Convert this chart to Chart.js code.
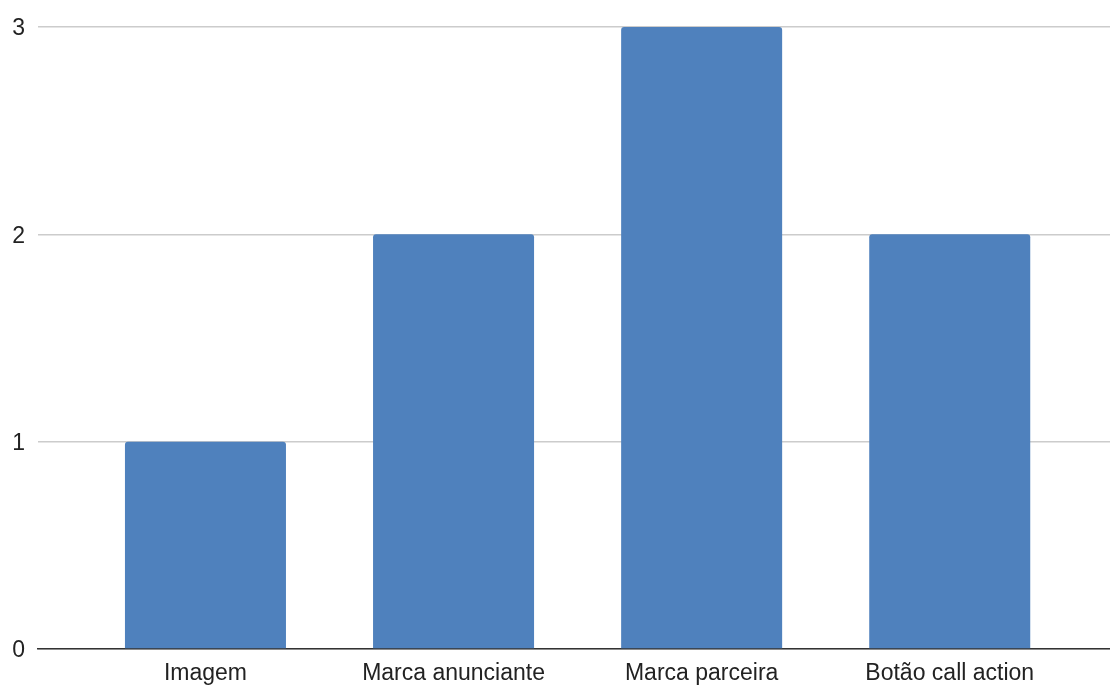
<!DOCTYPE html>
<html>
<head>
<meta charset="utf-8">
<script src="https://cdn.jsdelivr.net/npm/chart.js@4/dist/chart.umd.min.js"></script>
<style>
  html, body { margin: 0; padding: 0; background: #fff; }
  canvas { display: block; }
</style>
</head>
<body>
<canvas id="myChart" width="1110" height="686"></canvas>
<script>
// Categories and counts
const categories = ["Imagem", "Marca anunciante", "Marca parceira", "Botão call action"];
const counts = [1, 2, 3, 2];
const yTicks = [0, 1, 2, 3];

const font = { family: "'Liberation Sans', Arial, sans-serif", size: 23 };

// Bars sit on a linear x axis so the plot can run wider than the category bands
const points = categories.map((c, i) => ({ x: i, y: counts[i] }));

const ctx = document.getElementById("myChart").getContext("2d");
new Chart(ctx, {
    type: "bar",
    data: {
        datasets: [{
            data: points,
            backgroundColor: "#4f81bd",
            borderWidth: 0,
            borderRadius: { topLeft: 3, topRight: 3, bottomLeft: 0, bottomRight: 0 },
            borderSkipped: "start",
            barPercentage: 0.649,
            categoryPercentage: 1
        }]
    },
    options: {
        responsive: false,
        animation: false,
        layout: { padding: { top: 27, right: 0, bottom: 0, left: 0 } },
        plugins: {
            legend: { display: false },
            tooltip: { enabled: false }
        },
        scales: {
            x: {
                type: "linear",
                offset: false,
                min: -0.675,
                max: 3.646,
                afterFit: (scale) => { scale.height = 37; },
                afterBuildTicks: (scale) => {
                    scale.ticks = categories.map((c, i) => ({ value: i }));
                },
                ticks: {
                    color: "#222",
                    font: font,
                    padding: 11,
                    maxRotation: 0,
                    autoSkip: false,
                    callback: (v) => categories[v]
                },
                grid: { display: false, drawTicks: false },
                border: { display: true, color: "#333", width: 1.5 }
            },
            y: {
                min: 0,
                max: 3,
                afterFit: (scale) => { scale.width = 38; },
                afterBuildTicks: (scale) => {
                    scale.ticks = yTicks.map(v => ({ value: v }));
                },
                ticks: {
                    color: "#222",
                    font: font,
                    padding: 13,
                    labelOffset: 2
                },
                grid: { color: "#cccccc", lineWidth: 1.5, drawTicks: false },
                border: { display: false }
            }
        }
    }
});
</script>
</body>
</html>
